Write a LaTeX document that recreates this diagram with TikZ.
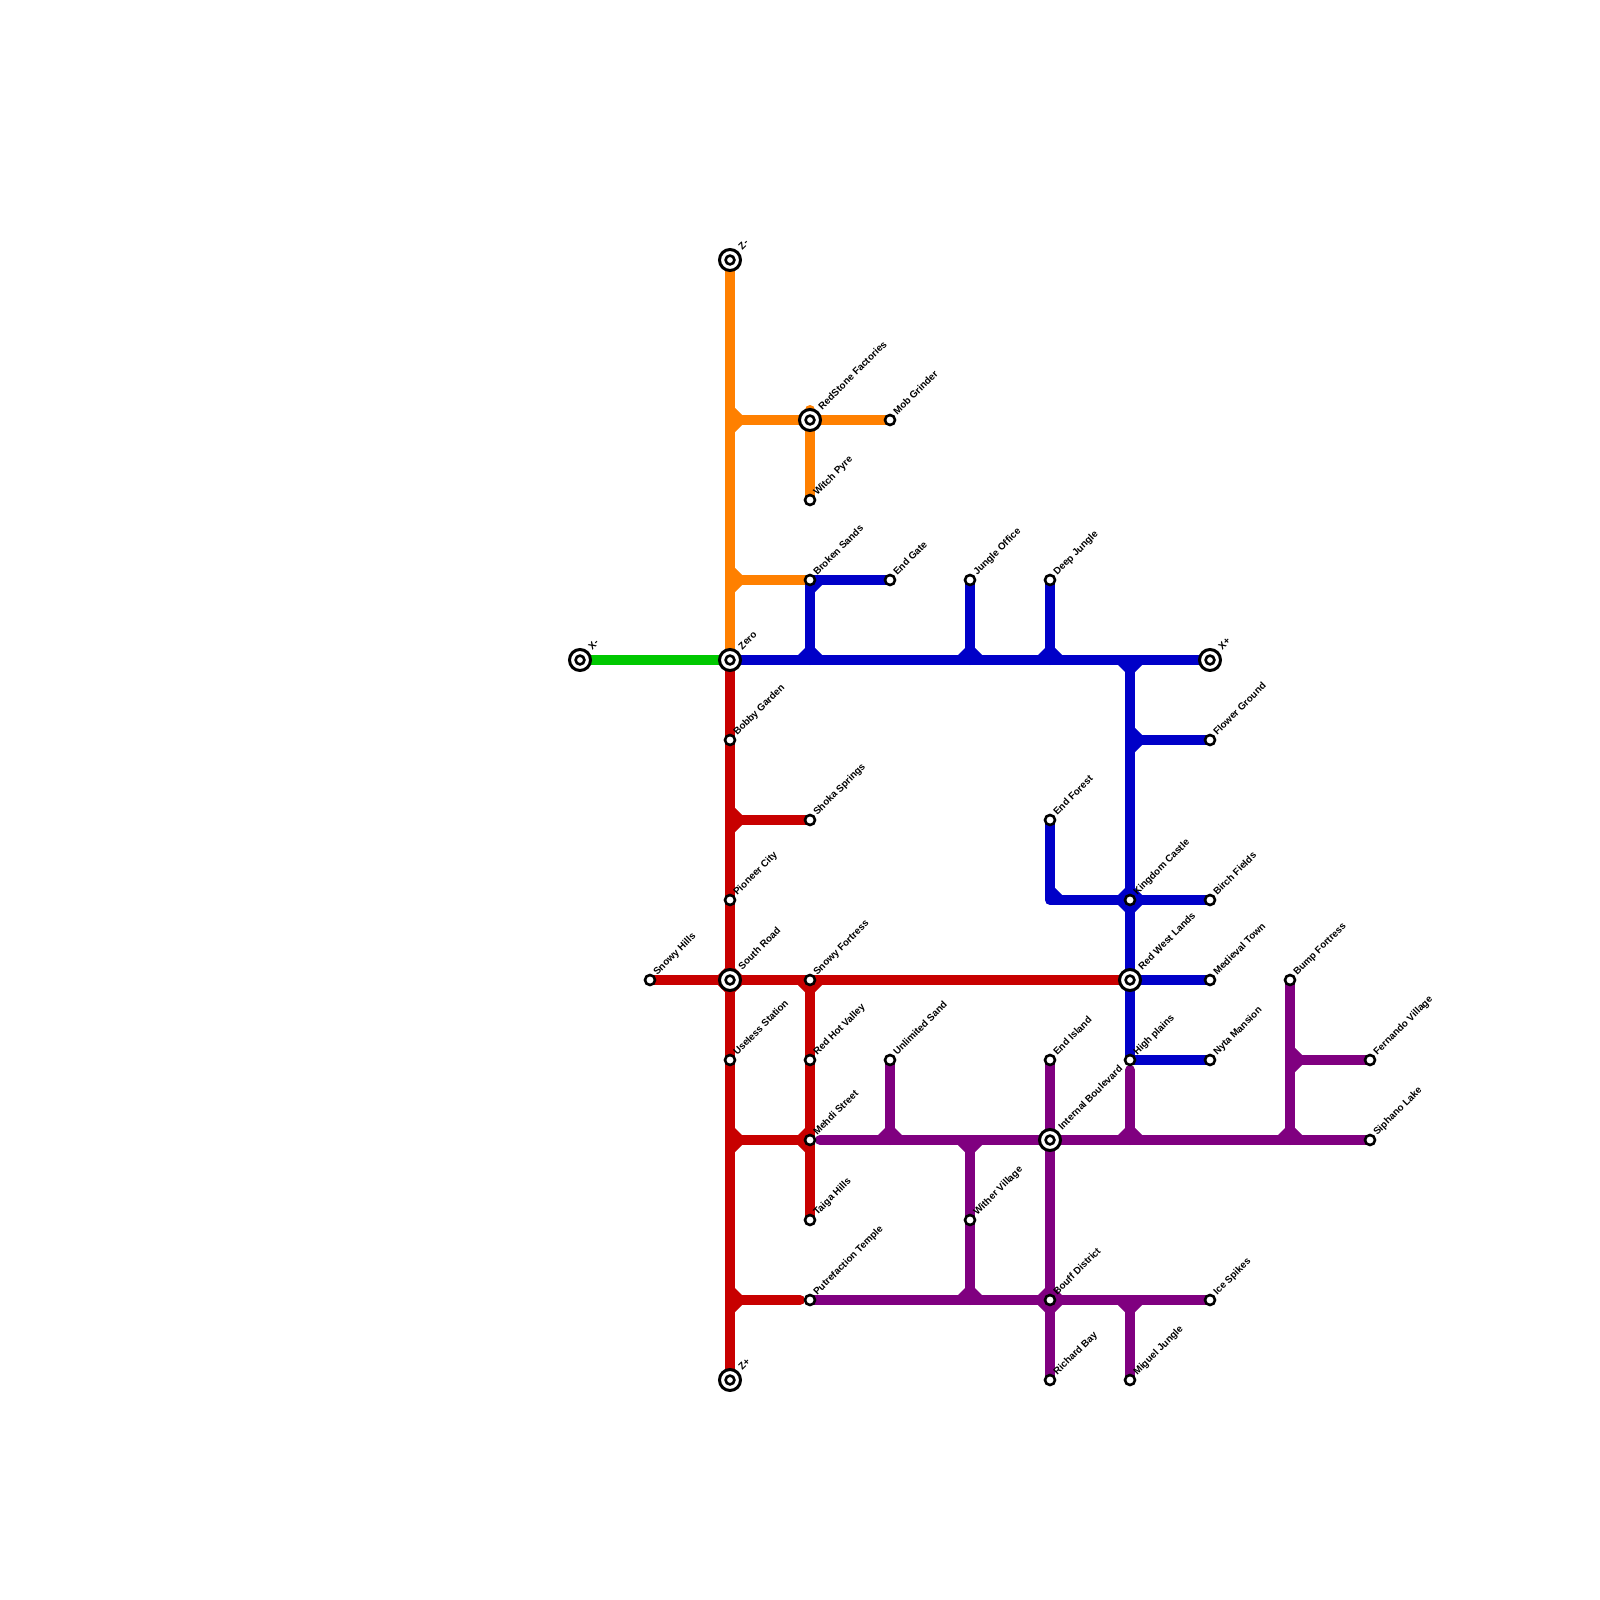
\documentclass[tikz,border=0pt]{standalone}
\usepackage{fontspec}
\setmainfont{Liberation Sans}
\pgfdeclarelayer{bg}
\pgfsetlayers{bg,main}
\definecolor{lorange}{RGB}{255,128,0}
\definecolor{lgreen}{RGB}{0,200,0}
\definecolor{lblue}{RGB}{0,0,200}
\definecolor{lred}{RGB}{200,0,0}
\definecolor{lpurple}{RGB}{128,0,128}
\tikzset{
  x=0.5pt,y=-0.5pt,
  smallst/.style={circle,draw=black,fill=white,line width=1.3pt,minimum size=5pt,inner sep=0pt,outer sep=0pt},
  bigst/.style={circle,draw=black,fill=white,line width=1.5pt,minimum size=10.5pt,inner sep=0pt,outer sep=0pt,
    path picture={\draw[line width=1.3pt] (path picture bounding box.center) circle (2.2pt);}},
  lab/.style={anchor=base west,rotate=45,inner sep=0pt,font=\fontsize{4.9pt}{6pt}\selectfont\bfseries},
  ln/.style={line width=5pt,line cap=round,line join=round},
}
\newcommand\stS[4]{\node[smallst] (#1) at (#2,#3) {};
  \node[lab] (#1-l) at ([shift={(7,-4)}]#1.center) {#4};}
\newcommand\stB[4]{\node[bigst] (#1) at (#2,#3) {};
  \node[lab] (#1-l) at ([shift={(12,-9.5)}]#1.center) {#4};}
\newcommand\fil[4]{\fill[#1] ([shift={(#3*12,#4*5)}]#2) -- ([shift={(#3*5,#4*12)}]#2) -- ([shift={(#3*5,#4*5)}]#2) -- cycle;}
\begin{document}
\begin{tikzpicture}
\useasboundingbox (0,0) rectangle (1600,1600);
% big stations
\stB{zm}{730}{260}{Z-}
\stB{xm}{580}{660}{X-}
\stB{xp}{1210}{660}{X+}
\stB{zp}{730}{1380}{Z+}
\stB{zero}{730}{660}{Zero}
\stB{redstone}{810}{420}{RedStone Factories}
\stB{internal}{1050}{1140}{Internal Boulevard}
\stB{redwest}{1130}{980}{Red West Lands}
\stB{south}{730}{980}{South Road}
% small stations
\stS{mob}{890}{420}{Mob Grinder}
\stS{witch}{810}{500}{Witch Pyre}
\stS{broken}{810}{580}{Broken Sands}
\stS{endgate}{890}{580}{End Gate}
\stS{jungle}{970}{580}{Jungle Office}
\stS{deep}{1050}{580}{Deep Jungle}
\stS{bobby}{730}{740}{Bobby Garden}
\stS{flower}{1210}{740}{Flower Ground}
\stS{shoka}{810}{820}{Shoka Springs}
\stS{endforest}{1050}{820}{End Forest}
\stS{pioneer}{730}{900}{Pioneer City}
\stS{kingdom}{1130}{900}{Kingdom Castle}
\stS{birch}{1210}{900}{Birch Fields}
\stS{snowyh}{650}{980}{Snowy Hills}
\stS{snowyf}{810}{980}{Snowy Fortress}
\stS{medieval}{1210}{980}{Medieval Town}
\stS{bump}{1290}{980}{Bump Fortress}
\stS{useless}{730}{1060}{Useless Station}
\stS{redhot}{810}{1060}{Red Hot Valley}
\stS{unlimited}{890}{1060}{Unlimited Sand}
\stS{endisland}{1050}{1060}{End Island}
\stS{high}{1130}{1060}{High plains}
\stS{nyta}{1210}{1060}{Nyta Mansion}
\stS{fernando}{1370}{1060}{Fernando Village}
\stS{mehdi}{810}{1140}{Mehdi Street}
\stS{siphano}{1370}{1140}{Siphano Lake}
\stS{taiga}{810}{1220}{Taiga Hills}
\stS{wither}{970}{1220}{Wither Village}
\stS{putre}{810}{1300}{Putrefaction Temple}
\stS{bouff}{1050}{1300}{Bouff District}
\stS{ice}{1210}{1300}{Ice Spikes}
\stS{richard}{1050}{1380}{Richard Bay}
\stS{miguel}{1130}{1380}{Miguel Jungle}
% junctions
\coordinate (a1) at (730,420);
\coordinate (a2) at (730,580);
\coordinate (a3) at (810,410);
\coordinate (b1) at (810,660);
\coordinate (b2) at (970,660);
\coordinate (b3) at (1050,660);
\coordinate (b4) at (1130,660);
\coordinate (b5) at (1130,740);
\coordinate (b6) at (1050,900);
\coordinate (r1) at (730,820);
\coordinate (r2) at (730,1140);
\coordinate (r3) at (730,1300);
\coordinate (r4) at (800,1300);
\coordinate (p0) at (820,1140);
\coordinate (p1) at (890,1140);
\coordinate (p2) at (970,1140);
\coordinate (p3) at (970,1300);
\coordinate (p4) at (1130,1070);
\coordinate (p5) at (1130,1140);
\coordinate (p6) at (1290,1140);
\coordinate (p7) at (1290,1060);
\coordinate (p8) at (1130,1300);
\begin{pgfonlayer}{bg}
\fill[white] (0,0) rectangle (1600,1600);
% green
\draw[ln,lgreen] (xm.center) -- (zero.center);
% orange
\draw[ln,lorange] (zm.center) -- (zero.center);
\draw[ln,lorange] (a1) -- (redstone.center) -- (mob.center);
\draw[ln,lorange] (a3) -- (witch.center);
\draw[ln,lorange] (a2) -- (broken.center);
\fil{lorange}{a1}{1}{-1}\fil{lorange}{a1}{1}{1}
\fil{lorange}{a2}{1}{-1}\fil{lorange}{a2}{1}{1}
% red
\draw[ln,lred] (zero.center) -- (zp.center);
\draw[ln,lred] (r1) -- (shoka.center);
\draw[ln,lred] (snowyh.center) -- (redwest.center);
\draw[ln,lred] (snowyf.center) -- (taiga.center);
\draw[ln,lred] (r2) -- (mehdi.center);
\draw[ln,lred] (r3) -- (r4);
\fil{lred}{r1}{1}{-1}\fil{lred}{r1}{1}{1}
\fil{lred}{r2}{1}{-1}\fil{lred}{r2}{1}{1}
\fil{lred}{r3}{1}{-1}\fil{lred}{r3}{1}{1}
\fil{lred}{south.center}{1}{1}\fil{lred}{south.center}{1}{-1}
\fil{lred}{south.center}{-1}{1}\fil{lred}{south.center}{-1}{-1}
\fil{lred}{snowyf.center}{-1}{1}\fil{lred}{snowyf.center}{1}{1}
\fil{lred}{mehdi.center}{-1}{-1}\fil{lred}{mehdi.center}{-1}{1}
% blue
\draw[ln,lblue] (zero.center) -- (xp.center);
\draw[ln,lblue] (broken.center) -- (endgate.center);
\draw[ln,lblue] (broken.center) -- (b1);
\draw[ln,lblue] (jungle.center) -- (b2);
\draw[ln,lblue] (deep.center) -- (b3);
\draw[ln,lblue] (b4) -- (high.center);
\draw[ln,lblue] (b5) -- (flower.center);
\draw[ln,lblue] (endforest.center) -- (b6) -- (birch.center);
\draw[ln,lblue] (redwest.center) -- (medieval.center);
\draw[ln,lblue] (high.center) -- (nyta.center);
\fil{lblue}{broken.center}{1}{1}
\fil{lblue}{b1}{-1}{-1}\fil{lblue}{b1}{1}{-1}
\fil{lblue}{b2}{-1}{-1}\fil{lblue}{b2}{1}{-1}
\fil{lblue}{b3}{-1}{-1}\fil{lblue}{b3}{1}{-1}
\fil{lblue}{b4}{-1}{1}\fil{lblue}{b4}{1}{1}
\fil{lblue}{b5}{1}{-1}\fil{lblue}{b5}{1}{1}
\fil{lblue}{b6}{1}{-1}
\fil{lblue}{kingdom.center}{-1}{-1}\fil{lblue}{kingdom.center}{1}{-1}
\fil{lblue}{kingdom.center}{-1}{1}\fil{lblue}{kingdom.center}{1}{1}
% purple
\draw[ln,lpurple] (p0) -- (siphano.center);
\draw[ln,lpurple] (unlimited.center) -- (p1);
\draw[ln,lpurple] (p2) -- (p3);
\draw[ln,lpurple] (endisland.center) -- (richard.center);
\draw[ln,lpurple] (p4) -- (p5);
\draw[ln,lpurple] (bump.center) -- (p6);
\draw[ln,lpurple] (p7) -- (fernando.center);
\draw[ln,lpurple] (putre.center) -- (ice.center);
\draw[ln,lpurple] (p8) -- (miguel.center);
\fil{lpurple}{p1}{-1}{-1}\fil{lpurple}{p1}{1}{-1}
\fil{lpurple}{p2}{-1}{1}\fil{lpurple}{p2}{1}{1}
\fil{lpurple}{p3}{-1}{-1}\fil{lpurple}{p3}{1}{-1}
\fil{lpurple}{p5}{-1}{-1}\fil{lpurple}{p5}{1}{-1}
\fil{lpurple}{p6}{-1}{-1}\fil{lpurple}{p6}{1}{-1}
\fil{lpurple}{p7}{1}{-1}\fil{lpurple}{p7}{1}{1}
\fil{lpurple}{p8}{-1}{1}\fil{lpurple}{p8}{1}{1}
\fil{lpurple}{bouff.center}{-1}{-1}\fil{lpurple}{bouff.center}{1}{-1}
\fil{lpurple}{bouff.center}{-1}{1}\fil{lpurple}{bouff.center}{1}{1}
\end{pgfonlayer}
\end{tikzpicture}
\end{document}
